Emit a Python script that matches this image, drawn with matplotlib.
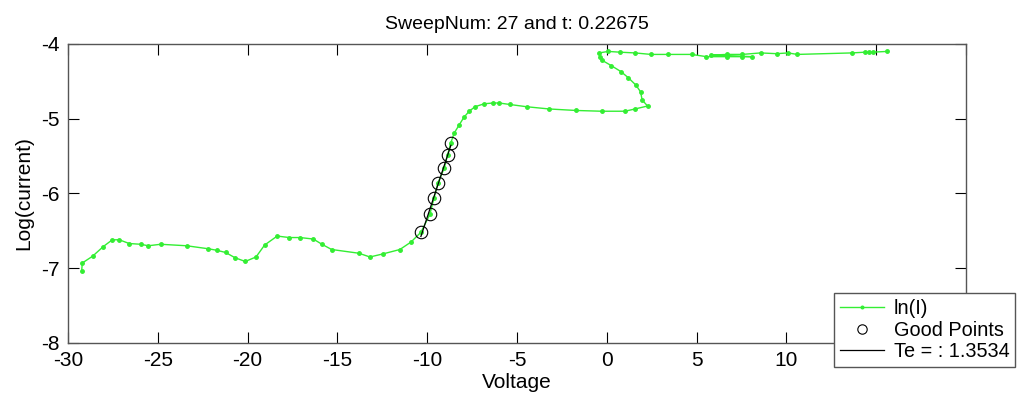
import numpy as np
import matplotlib
matplotlib.use("Agg")
import matplotlib.pyplot as plt

plt.rcParams['font.family'] = ['Liberation Sans', 'DejaVu Sans']
plt.rcParams['axes.unicode_minus'] = False

# sweep data: voltage and ln(current)
volt = [-29.24, -29.2, -28.63, -28.03, -27.53, -27.14, -26.59, -25.95, -25.53, -24.84,
        -23.39, -22.19, -21.72, -21.22, -20.70, -20.13, -19.53, -19.05, -18.35, -17.68,
        -17.08, -16.34, -15.86, -15.32, -13.8, -13.19, -12.48, -11.52, -10.90, -10.35,
        -9.85, -9.62, -9.40, -9.05, -8.86, -8.68, -8.49, -8.21, -7.95, -7.66,
        -7.34, -6.82, -6.32, -5.99, -5.39, -4.46, -3.2, -1.7, -0.29, 1.01,
        1.57, 2.27, 1.97, 1.88, 1.62, 1.19, 0.79, 0.25, -0.25, -0.38,
        -0.43, 0.08, 0.73, 1.57, 2.46, 3.42, 4.72, 5.55, 6.67, 7.54,
        8.06, 5.8, 6.67, 7.54, 8.56, 9.45, 10.1, 10.6, 13.63, 14.4,
        14.6, 14.8, 15.6]
lnI = [-7.04, -6.93, -6.84, -6.71, -6.62, -6.62, -6.67, -6.68, -6.70, -6.68,
       -6.70, -6.74, -6.76, -6.79, -6.86, -6.91, -6.85, -6.69, -6.57, -6.59,
       -6.59, -6.61, -6.68, -6.75, -6.80, -6.85, -6.81, -6.75, -6.65, -6.52,
       -6.28, -6.06, -5.86, -5.66, -5.48, -5.32, -5.19, -5.08, -4.98, -4.90,
       -4.84, -4.80, -4.79, -4.79, -4.81, -4.84, -4.87, -4.89, -4.90, -4.90,
       -4.87, -4.83, -4.75, -4.64, -4.55, -4.45, -4.37, -4.29, -4.22, -4.17,
       -4.12, -4.10, -4.11, -4.12, -4.14, -4.14, -4.14, -4.17, -4.17, -4.17,
       -4.17, -4.15, -4.14, -4.14, -4.12, -4.13, -4.12, -4.14, -4.12, -4.11,
       -4.11, -4.11, -4.10]

# points used for the fit
good_v = [-10.35, -9.85, -9.62, -9.40, -9.05, -8.86, -8.68]
good_l = [-6.52, -6.28, -6.06, -5.86, -5.66, -5.48, -5.32]
te_label = 'Te = : 1.3534'

fig = plt.figure(figsize=(10.22, 3.96), dpi=100)
ax = fig.add_axes([0.0665, 0.134, 0.8787, 0.755])

ax.plot(volt, lnI, '-', color='#33ee33', lw=1.0, marker='.', ms=5, label='ln(I)')
ax.plot(good_v, good_l, 'o', mfc='none', mec='black', mew=0.8, ms=9, label='Good Points')
# linear fit through the good points
p = np.polyfit(good_v, good_l, 1)
fit_v = np.array([good_v[0], good_v[-1]])
ax.plot(fit_v, np.polyval(p, fit_v), '-', color='black', lw=0.9, label=te_label)

ax.set_xlim(-30, 20)
ax.set_ylim(-8, -4)
ax.set_xticks(np.arange(-30, 21, 5))
ax.set_yticks(np.arange(-8, -3, 1))
ax.tick_params(direction='in', length=8, width=0.8, top=True, right=True,
               labelsize=15, pad=6)
for s in ax.spines.values():
    s.set_color('#555555')
    s.set_linewidth(1.0)

ax.set_title('SweepNum: 27 and t: 0.22675', fontsize=14, pad=11)
ax.set_xlabel('Voltage', fontsize=15, labelpad=2)
ax.set_ylabel('Log(current)', fontsize=15, labelpad=6)

leg = fig.legend(loc='lower left', bbox_to_anchor=(834 / 1022, 29 / 396),
                 fontsize=14.3, frameon=True, fancybox=False, borderpad=0.3,
                 labelspacing=0.12, handlelength=2.2, handletextpad=0.5,
                 borderaxespad=0, markerscale=0.75)
leg.get_frame().set_edgecolor('#555555')
leg.get_frame().set_linewidth(1.0)
leg.get_frame().set_alpha(1)

fig.savefig('out.png', dpi=100)
